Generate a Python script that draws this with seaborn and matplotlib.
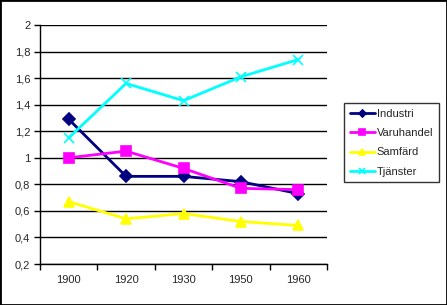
import matplotlib
matplotlib.use("Agg")
import matplotlib.pyplot as plt
import seaborn as sns
import pandas as pd
import numpy as np
from matplotlib.patches import Rectangle

years = ["1900", "1920", "1930", "1950", "1960"]
industri = [1.29, 0.86, 0.86, 0.82, 0.73]
varuhandel = [1.00, 1.05, 0.92, 0.77, 0.76]
samfard = [0.67, 0.54, 0.58, 0.52, 0.49]
tjanster = [1.15, 1.56, 1.43, 1.61, 1.74]
series_names = ["Industri", "Varuhandel", "Samfärd", "Tjänster"]
yticks = [0.2, 0.4, 0.6, 0.8, 1.0, 1.2, 1.4, 1.6, 1.8, 2.0]

sns.set_theme(style="white")
plt.rcParams['font.family'] = ['Liberation Sans', 'DejaVu Sans']

rows = []
for name, vals in zip(series_names, [industri, varuhandel, samfard, tjanster]):
    for i, v in enumerate(vals):
        rows.append({"idx": i, "year": years[i], "value": v, "serie": name})
df = pd.DataFrame(rows)

colors = {"Industri": "#000080", "Varuhandel": "#FF00FF", "Samfärd": "#FFFF00", "Tjänster": "#00FFFF"}
markers = {"Industri": "D", "Varuhandel": "s", "Samfärd": "^", "Tjänster": "x"}
msizes = {"Industri": 6, "Varuhandel": 7.5, "Samfärd": 7.5, "Tjänster": 7}

fig = plt.figure(figsize=(4.47, 3.05), dpi=100)
ax = fig.add_axes([40/447, 1-264/305, 287/447, 239/305])

for name in series_names:
    sub = df[df.serie == name]
    sns.lineplot(data=sub, x="idx", y="value", ax=ax, color=colors[name], linewidth=2,
                 marker=markers[name], markersize=msizes[name], markeredgecolor=colors[name],
                 markeredgewidth=1.2, label=name, sort=False, legend=False)

def fmt(t):
    s = f"{t:.1f}".replace(".", ",")
    return s[:-2] if s.endswith(",0") else s

ax.set_xlim(-0.5, 4.5)
ax.set_ylim(0.2, 2.0)
ax.set_yticks(yticks)
ax.set_yticklabels([fmt(t) for t in yticks], fontsize=8)
ax.set_xticks(np.arange(-0.5, 5, 1))
ax.set_xticklabels([""] * 6)
ax.set_xticks(range(len(years)), minor=True)
ax.set_xticklabels(years, minor=True, fontsize=8)
ax.tick_params(axis="x", which="minor", length=0, pad=8)
ax.tick_params(axis="x", which="major", length=4, width=1, color="black", direction="out", bottom=True)
ax.tick_params(axis="y", length=4, width=1, color="black", direction="out", left=True, pad=3)
ax.set_xlabel("")
ax.set_ylabel("")
ax.grid(axis="y", color="black", linewidth=1)
ax.set_axisbelow(True)
for s in ["top", "right"]:
    ax.spines[s].set_visible(False)
for s in ["left", "bottom"]:
    ax.spines[s].set_color("black")
    ax.spines[s].set_linewidth(1)

handles, labels = ax.get_legend_handles_labels()
leg = fig.legend(handles, labels, loc="upper left", bbox_to_anchor=(344/447, 1-103/305),
                 frameon=True, fancybox=False, edgecolor="black", fontsize=8,
                 handlelength=2.3, handletextpad=0.15, borderpad=0.5, labelspacing=0.85,
                 borderaxespad=0, markerscale=0.6)
leg.get_frame().set_linewidth(1)

fig.patches.append(Rectangle((0, 0), 1, 1, transform=fig.transFigure, fill=False,
                             edgecolor="black", linewidth=2))
fig.savefig("out.png", dpi=100)
